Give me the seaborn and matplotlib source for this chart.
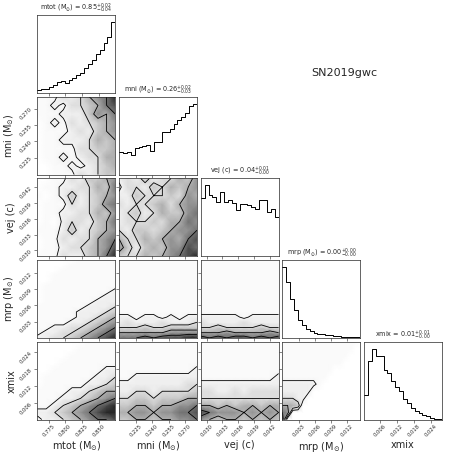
import numpy as np
import pandas as pd
import matplotlib
matplotlib.use('Agg')
import matplotlib.pyplot as plt
from matplotlib.colors import LinearSegmentedColormap
from matplotlib.ticker import FormatStrFormatter
import seaborn as sns

sns.set_style("ticks")
plt.rcParams['font.family'] = ['DejaVu Sans']

labels = [r"mtot (M$_{\odot}$)", r"mni (M$_{\odot}$)", "vej (c)", r"mrp (M$_{\odot}$)", "xmix"]
ranges = [(0.758, 0.875), (0.2095, 0.281), (0.0289, 0.0437), (0.0, 0.0144), (0.0003, 0.0278)]
ticks = [[0.775, 0.800, 0.825, 0.850],
         [0.225, 0.240, 0.255, 0.270],
         [0.030, 0.033, 0.036, 0.039, 0.042],
         [0.003, 0.006, 0.009, 0.012],
         [0.006, 0.012, 0.018, 0.024]]
medians = ["0.85", "0.26", "0.04", "0.00", "0.01"]
err_hi = ["0.02", "0.02", "0.01", "0.00", "0.01"]
err_lo = ["0.04", "0.03", "0.00", "0.00", "0.00"]

# 1D marginal histograms, 20 bins each (heights)
hist_mtot = [10, 11, 13, 19, 23, 32, 37, 30, 38, 46, 54, 60, 75, 86, 100, 118, 130, 148, 166, 212]
hist_mni = [67, 65, 67, 60, 80, 82, 87, 89, 70, 97, 99, 127, 127, 137, 150, 162, 172, 185, 204, 212]
hist_vej = [176, 213, 183, 178, 163, 193, 163, 170, 160, 138, 158, 158, 153, 148, 143, 170, 170, 133, 143, 118]
hist_mrp = [70, 55, 38, 28, 18, 13, 9, 7, 5, 4, 3.5, 3, 2.5, 2, 1.5, 1.2, 1, 0.8, 0.6, 0.5]
hist_xmix = [73, 173, 210, 188, 188, 148, 138, 113, 98, 85, 61, 48, 33, 26, 18, 13, 10, 4, 3, 2]

# 2D density levels (0-9), rows listed top to bottom, columns left to right
grid_mni_mtot = ["1113235679", "1121334578", "1112224657", "0121323456", "0111232456",
                 "0112223545", "0111133445", "0112123355", "0011212345", "0011132344"]
grid_vej_mtot = ["0011324456", "0112233547", "1012423456", "0111323467", "0112233546",
                 "0102332457", "1112423456", "0113233567", "0112334568", "1113224579"]
grid_vej_mni = ["2324233546", "1332435456", "2243334365", "3233453566", "2342354467",
                "2333435576", "3244345667", "5335456578", "6424546687", "4335456789"]
grid_mrp_mtot = ["0000011111", "0000111111", "0001111111", "0011111111", "0011111111",
                 "0111111111", "0111111112", "0111111122", "0111111222", "1111112223",
                 "1111122234", "1111122345", "1111223456", "1122334567", "1223345678",
                 "2233456789"]
grid_mrp_mni = ["1111111111", "1111111111", "1111111111", "1111111111", "1111111111",
                "1111111111", "1111111111", "1111111111", "1111111111", "1111111111",
                "1111111111", "2212212122", "2322232223", "3334334444", "5555556666",
                "7778788899"]
grid_mrp_vej = ["1111111111", "1111111111", "1111111111", "1111111111", "1111111111",
                "1111111111", "1111111111", "1111111111", "1111111111", "1111111111",
                "1111111111", "2222212222", "3222232222", "3343333433", "5556555565",
                "8787887878"]
grid_xmix_mtot = ["0000001111", "0000011111", "0000111111", "0001111111", "0011111122",
                  "0111111223", "0111112234", "1111223455", "1112234567", "1123456789",
                  "2234567899", "1223456778"]
grid_xmix_mni = ["1111111111", "1111111111", "1111111111", "1111111111", "1111111112",
                 "1122222222", "2222222233", "2233233334", "3344344455", "4455455667",
                 "5566566778", "4455455667"]
grid_xmix_vej = ["1111111111", "1111111111", "1111111111", "1111111111", "1111111111",
                 "1111111112", "2222222222", "3322323333", "3333333333", "5545455455",
                 "8766656565", "6545545454"]
grid_xmix_mrp = ["1111111111111110", "1111111111111100", "1111111111111000", "1111111111110000",
                 "1111111111000000", "1111111110000000", "2222222100000000", "2222220000000000",
                 "3332200000000000", "5554000000000000", "7600000000000000", "8000000000000000"]

hists = [hist_mtot, hist_mni, hist_vej, hist_mrp, hist_xmix]
grids = {(1, 0): grid_mni_mtot, (2, 0): grid_vej_mtot, (2, 1): grid_vej_mni,
         (3, 0): grid_mrp_mtot, (3, 1): grid_mrp_mni, (3, 2): grid_mrp_vej,
         (4, 0): grid_xmix_mtot, (4, 1): grid_xmix_mni, (4, 2): grid_xmix_vej,
         (4, 3): grid_xmix_mrp}

density_cmap = LinearSegmentedColormap.from_list("dens", ["white", "black"])
K = len(labels)

fig, axes = plt.subplots(K, K, figsize=(4.57, 4.57), dpi=100)
fig.subplots_adjust(left=0.082, right=0.967, bottom=0.082, top=0.967, wspace=0.05, hspace=0.05)

for i in range(K):
    for j in range(K):
        ax = axes[i, j]
        if j > i:
            ax.set_visible(False)
            continue
        xlo, xhi = ranges[j]
        if i == j:
            h = np.array(hists[i], dtype=float)
            edges = np.linspace(xlo, xhi, len(h) + 1)
            df = pd.DataFrame({"x": 0.5 * (edges[1:] + edges[:-1]), "w": h})
            sns.histplot(data=df, x="x", weights="w", bins=len(h), binrange=(xlo, xhi),
                         element="step", fill=False, color="black", linewidth=0.7, ax=ax)
            ax.set_ylim(0, 1.1 * h.max())
            ax.set_yticks([])
            ax.set_ylabel("")
            ax.set_title(labels[i] + r" = $%s_{-%s}^{+%s}$" % (medians[i], err_lo[i], err_hi[i]),
                         fontsize=4.7, pad=2)
        else:
            ylo, yhi = ranges[i]
            G = np.array([[float(c) for c in row] for row in grids[(i, j)][::-1]])
            xs = np.linspace(xlo, xhi, G.shape[1])
            ys = np.linspace(ylo, yhi, G.shape[0])
            # darker only near the peak, light elsewhere
            ax.pcolormesh(xs, ys, G ** 1.7, shading="gouraud", cmap=density_cmap,
                          vmin=0, vmax=9 ** 1.7 / 0.85)
            ax.contour(xs, ys, G, levels=[1.5, 3, 5, 7], colors="black", linewidths=0.6)
            ax.set_ylim(ylo, yhi)
            ax.set_yticks(ticks[i])
            ax.yaxis.set_major_formatter(FormatStrFormatter("%.3f"))
            if j == 0:
                for lab in ax.get_yticklabels():
                    lab.set_rotation(45)
                ax.set_ylabel(labels[i], fontsize=7)
                ax.yaxis.set_label_coords(-0.27, 0.5)
            else:
                ax.set_yticklabels([])
        ax.set_xlim(xlo, xhi)
        ax.set_xticks(ticks[j])
        ax.xaxis.set_major_formatter(FormatStrFormatter("%.3f"))
        if i == K - 1:
            for lab in ax.get_xticklabels():
                lab.set_rotation(45)
            ax.set_xlabel(labels[j], fontsize=7)
            ax.xaxis.set_label_coords(0.5, -0.26)
        else:
            ax.set_xticklabels([])
            ax.set_xlabel("")
        ax.tick_params(labelsize=3.8, length=2, width=0.4, pad=1)
        for sp in ax.spines.values():
            sp.set_linewidth(0.5)

fig.text(0.68, 0.84, "SN2019gwc", fontsize=8, va="center")

plt.savefig("out.png", dpi=100)
plt.close()
